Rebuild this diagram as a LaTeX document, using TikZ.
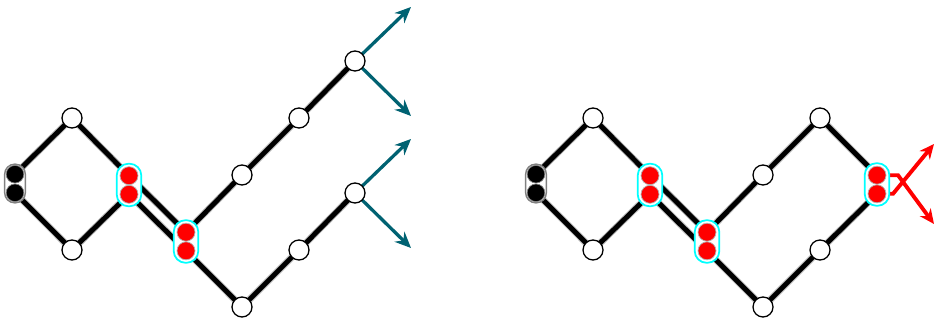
\documentclass[tikz,border=0pt]{standalone}
\usetikzlibrary{arrows.meta,backgrounds}

\definecolor{petrol}{RGB}{0,98,114}
\definecolor{aqua}{RGB}{0,255,255}

\begin{document}
\begin{tikzpicture}
[
	x=0.3mm,
	y=-0.3mm,
	vtx/.style={circle,draw,fill=white,line width=1.1pt,inner sep=0pt,minimum size=6mm},
	dark/.style={circle,draw=gray,fill=black,line width=0.6pt,inner sep=0pt,minimum size=5.3mm},
	hot/.style={circle,draw=gray!60,fill=red,line width=0.6pt,inner sep=0pt,minimum size=5.4mm},
	darkbox/.style={draw=gray,fill=white,line width=1.2pt,rounded corners=3mm,minimum width=6.2mm,minimum height=11.6mm,inner sep=0pt},
	hotbox/.style={draw=aqua,fill=white,line width=1.5pt,rounded corners=3.6mm,minimum width=7.4mm,minimum height=12.8mm,inner sep=0pt},
	bond/.style={line width=4.2pt,preaction={draw,gray!55,line width=5.8pt}},
	exitarrow/.style={petrol,line width=2.8pt,-{Stealth[length=4.8mm,width=4.2mm]}},
	swaparrow/.style={red,line width=3.3pt,-{Stealth[length=4.4mm,width=4mm]}}
]

	\useasboundingbox (0,0) rectangle (934,320);

	% common part of both chains
	\foreach \s/\p in {0/L,521/R} {
		\begin{scope}[shift={(\s,0)}]
			\node[darkbox] (\p-k) at (15,183.5) {};
			\node[dark] (\p-ka) at (15,174.2) {};
			\node[dark] (\p-kb) at (15,192.8) {};

			\node[vtx] (\p-wt) at (72,118) {};
			\node[vtx] (\p-wb) at (72,250) {};

			\node[hotbox] (\p-h1) at (129,185) {};
			\node[hot] (\p-h1a) at (129,175.7) {};
			\node[hot] (\p-h1b) at (129,194.3) {};

			\node[hotbox] (\p-h2) at (186,241.5) {};
			\node[hot] (\p-h2a) at (186,232.2) {};
			\node[hot] (\p-h2b) at (186,250.8) {};

			\node[vtx] (\p-u1) at (242,175) {};
			\node[vtx] (\p-u2) at (299,118) {};
			\node[vtx] (\p-d1) at (242,307) {};
			\node[vtx] (\p-d2) at (299,250) {};

			\begin{scope}[on background layer]
				\draw[bond] (\p-wt.center) -- (\p-ka.center);
				\draw[bond] (\p-wb.center) -- (\p-kb.center);
				\draw[bond] (\p-wt.center) -- (\p-h1a.center);
				\draw[bond] (\p-wb.center) -- (\p-h1b.center);
				\draw[bond] (\p-h1a.center) -- (\p-h2a.center);
				\draw[bond] (\p-h1b.center) -- (\p-h2b.center);
				\draw[bond] (\p-h2a.center) -- (\p-u1.center);
				\draw[bond] (\p-u1.center) -- (\p-u2.center);
				\draw[bond] (\p-h2b.center) -- (\p-d1.center);
				\draw[bond] (\p-d1.center) -- (\p-d2.center);
			\end{scope}
		\end{scope}
	}

	% left: open ends
	\node[vtx] (L-u3) at (355,61) {};
	\node[vtx] (L-d3) at (355,193) {};
	\coordinate (L-t1) at (411,7);
	\coordinate (L-t2) at (411,116);
	\coordinate (L-t3) at (411,139);
	\coordinate (L-t4) at (411,248);

	\begin{scope}[on background layer]
		\draw[bond] (L-u2.center) -- (L-u3.center);
		\draw[bond] (L-d2.center) -- (L-d3.center);
		\draw[exitarrow] (L-u3.center) -- (L-t1);
		\draw[exitarrow] (L-u3.center) -- (L-t2);
		\draw[exitarrow] (L-d3.center) -- (L-t3);
		\draw[exitarrow] (L-d3.center) -- (L-t4);
	\end{scope}

	% right: closed pair
	\node[hotbox] (R-h3) at (877,184.5) {};
	\node[hot] (R-h3a) at (877,175.2) {};
	\node[hot] (R-h3b) at (877,193.8) {};
	\coordinate (R-t1) at (934,144);
	\coordinate (R-t2) at (934,224);

	\begin{scope}[on background layer]
		\draw[bond] (R-u2.center) -- (R-h3a.center);
		\draw[bond] (R-d2.center) -- (R-h3b.center);
		\draw[swaparrow] (R-h3a.center) -- ++(21,0) -- (R-t2);
		\draw[swaparrow] (R-h3b.center) -- ++(16,0) -- (R-t1);
	\end{scope}

\end{tikzpicture}
\end{document}
